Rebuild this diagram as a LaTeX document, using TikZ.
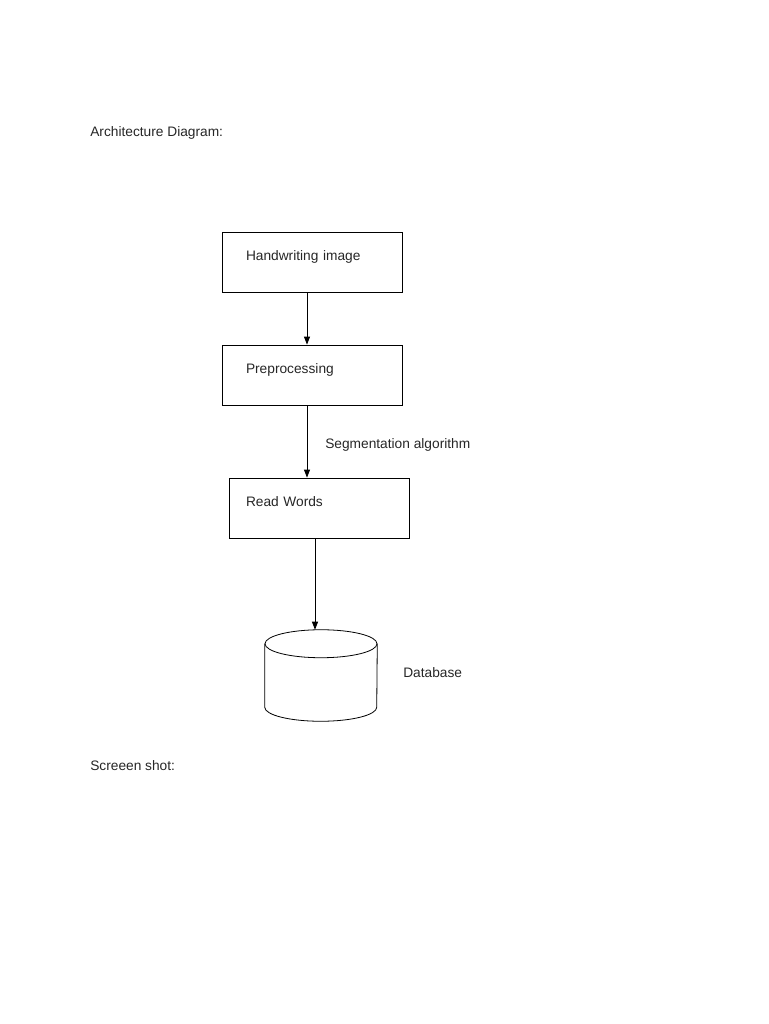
\documentclass[tikz,border=0pt]{standalone}
\usepackage{fontspec}
\setmainfont{Liberation Sans}
\usetikzlibrary{arrows.meta}

\begin{document}
\begin{tikzpicture}[x=0.75pt, y=-0.75pt,
    every node/.style={font=\fontsize{10.3}{12}\selectfont, text=black!85},
    plain/.style={anchor=base west, inner sep=0pt},
    stagebox/.style={draw, line width=0.6pt, minimum width=135pt, minimum height=45pt,
        inner xsep=18pt, text width=99pt, align=left, text height=8pt, text depth=10pt},
    dbstore/.style={minimum width=84pt, minimum height=68.25pt, inner sep=0pt},
    flow/.style={line width=0.6pt, -{Triangle[length=6pt, width=4.5pt]}}]

    \useasboundingbox (0,0) rectangle (768,1024);

    
    \node[plain] (title) at (90,136) {Architecture Diagram:};
    \node[plain] (shot) at (90,770) {Screeen shot:};

    
    \node[stagebox] (hw) at (312,262) {Handwriting image};
    \node[stagebox] (pre) at (312,375) {Preprocessing};
    \node[stagebox, inner xsep=12.75pt, text width=109.5pt] (rw) at (319,508) {Read Words};
    \node[dbstore] (db) at (321,675.5) {};

    
    \draw[line width=0.6pt] ([yshift=-10.5pt]db.north west) -- ([yshift=10.5pt]db.south west)
        arc[start angle=180, end angle=360, x radius=42pt, y radius=10.5pt]
        -- ([yshift=-10.5pt]db.north east);
    \draw[line width=0.6pt] ([yshift=-10.5pt]db.north) ellipse [x radius=42pt, y radius=10.5pt];

    \node[plain] (seg) at (325,448) {Segmentation algorithm};
    \node[plain] (dblabel) at (403,677) {Database};

    
    \draw[flow] ([xshift=-3.75pt]hw.south) -- ([xshift=-3.75pt]pre.north);
    \draw[flow] ([xshift=-3.75pt]pre.south) -- ([xshift=-9pt]rw.north);
    \draw[flow] ([xshift=-3pt]rw.south) -- ([xshift=-4.5pt]db.north);

\end{tikzpicture}
\end{document}
